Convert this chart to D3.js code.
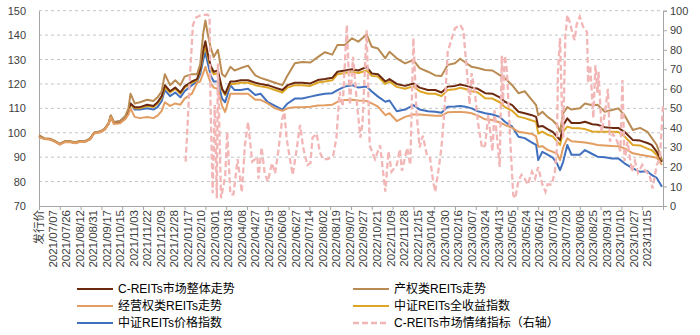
<!DOCTYPE html>
<html><head><meta charset="utf-8">
<script src="https://cdn.jsdelivr.net/npm/d3@7"></script>
<style>
html,body{margin:0;padding:0;background:#fff;}
svg{display:block;font-family:"Liberation Sans",Arial,"Noto Sans CJK SC",sans-serif;}
</style></head><body>
<svg id="c" width="700" height="335"></svg>
<script>
// ---- DATA ----
const tickLabels = ['发行价','2021/07/07','2021/07/26','2021/08/12','2021/08/31','2021/09/17','2021/10/15','2021/11/03','2021/11/22','2021/12/09','2021/12/28','2022/01/17','2022/02/10','2022/03/01','2022/03/18','2022/04/08','2022/04/27','2022/05/19','2022/06/08','2022/06/27','2022/07/14','2022/08/02','2022/08/19','2022/09/07','2022/09/27','2022/10/21','2022/11/09','2022/11/28','2022/12/15','2023/01/04','2023/01/30','2023/02/16','2023/03/07','2023/03/24','2023/04/13','2023/05/05','2023/05/24','2023/06/12','2023/07/03','2023/07/20','2023/08/08','2023/08/25','2023/09/13','2023/10/10','2023/10/27','2023/11/15'];
const leftTicks = [70,80,90,100,110,120,130,140,150];
const rightTicks = [0,10,20,30,40,50,60,70,80,90,100];

// trading-day index of each sampled observation
const days = [0,5,11,15,20,25,30,35,39,44,49,53,59,63,67,69,72,78,83,86,88,92,97,104,110,114,118,121,126,131,136,140,147,152,155,158,160,162,165,168,172,176,179,184,188,194,201,208,213,220,227,234,239,246,253,261,268,275,282,287,294,301,307,315,320,326,333,337,344,352,360,366,374,381,387,393,400,405,410,416,422,429,436,443,448,455,461,467,474,478,480,484,489,494,498,501,504,508,512,520,525,532,537,544,551,557,563,571,578,585,589,594,599];

const chanquan = [99,97.8,97.5,96.8,95.5,96.6,96.5,96.1,96.6,96.6,97.6,100.1,100.6,101.6,104,107.2,104.4,104.8,106.8,110,116,112,112.5,113.5,113,114.5,117,124,119.5,121.5,119.5,123,124,124,128,141,146,141,135,131,134,124,123,127,125.5,126.5,127.5,123.5,122.5,121.5,120.5,119.5,123.5,128.5,129,128.8,131,133,132,136,136,138.7,137.3,140.3,135.2,134.5,130.5,133.2,130.5,128.4,129.8,126.5,125,123.5,123.3,127.8,128.5,130.3,128.8,127,126.5,125.7,125.5,123.6,122.3,119.5,116.2,117,113.4,111.3,107.2,108.6,106.5,105,103.2,100.4,108,110.5,109.5,110,112,111.3,111.5,108.6,109.3,110,107.2,101.1,102,100.4,98,95,88.8];

const zhengti = [98.5,97.6,97.3,96.6,95.3,96.4,96.3,95.9,96.4,96.4,97.4,99.9,100.4,101.4,103.8,106.8,104.1,104.5,106.4,108.8,112,110.5,110.5,111.5,111,112.5,115,119.5,117,118.5,116.5,119,121,122,126,134,137.5,133,127.5,125,125.5,118,116,121,121,121.5,121.5,120.5,120,119.5,118.5,117.5,119.5,120.5,120.5,120.2,121.6,122,122.5,125,125.5,126,125.5,127,124.3,124,121,122,120,119.2,120.2,118.5,117.5,117.5,116.5,118.9,119.2,119.8,119.3,118.5,118,116.2,116,114.5,112.7,111.3,108.6,108,107.2,106.5,102.5,102.8,101.5,100.4,98.4,97,103,105.9,104,104,104.5,103.5,103.3,102.3,102,102,100.4,97,96.8,95.8,95,92.2,88.1];

const quanshouyi = [98.5,97.6,97.3,96.6,95.3,96.4,96.3,95.9,96.4,96.4,97.4,99.9,100.4,101.4,103.8,106.8,104.1,104.5,106.4,108.6,111.5,110,110,111,110.5,112,114.5,118.5,116.5,118,116,118.5,120.5,121.5,125.5,132.5,135.5,131.5,126.5,124,124.5,117.5,115.5,120,120,120.5,120.5,119.5,119,118.5,117.5,116.5,118.5,119.5,119.5,119.2,120.6,121,121.5,124,124.5,125,124.5,125.5,123.3,123,120,121,118.8,118,119,117,116,116,115,117.5,117.8,118.4,117.9,117,116.5,114.1,114,112.5,110.5,109,106.6,106,105,104.5,99.7,100.5,99.2,98.5,96.5,95,100.5,102.5,102,101.8,101.5,100.5,100.4,100.4,100.4,100.3,98.5,95,94.8,93.5,92.9,90.9,88.1];

const jiage = [98.5,97.6,97.3,96.6,95.3,96.4,96.3,95.9,96.4,96.4,97.4,99.9,100.4,101.4,103.8,106.6,104.3,104.7,106.7,109,112,109.5,109.5,110,109.5,110.5,113,117.5,115,116.5,114.5,117,119.5,121,124,130,133,129,123.5,121,121,114,112.5,119.5,117.5,117.5,118,115.5,116,112.5,111,109.5,112,114,114,114.8,115.5,116,116.2,117.5,118.9,119.5,118.5,118.9,116.9,114.8,112.7,113.2,108.8,109.5,111.3,109.5,108.8,108.6,108.2,110.7,110.8,111,110.7,110,108.8,108,107.5,106.5,104.5,102.5,98.4,97.8,96,95,88.8,92.2,91,89.8,87.5,84.7,88.1,95,91,91,92.9,91.3,90.2,90,89.5,89.5,87.5,85.4,84,84.2,82.7,81.5,77.9];

const jingying = [98.2,97.4,97.1,96.4,95.1,96.2,96.1,95.7,96.2,96.2,97.2,99.7,100.2,101.2,103.5,106.3,103.6,103.9,105.6,107.5,110,106.5,106,106.5,106,107,109,112.5,111,112,111.5,114,116,120.5,121,124.5,127,124,120.5,118.5,118,111,108.5,116,116,116,116,113.5,113.5,112,110,109,110,110.5,110.5,110.7,111.2,111.3,111.5,112.7,113.4,113.5,113.2,113,112,110.7,107.2,108,104.8,106.5,107.5,107.5,107.2,107,107,108.4,108.5,108.5,108.4,108,107,105.5,105.2,104.2,103.2,102,100.4,100,99.5,98.5,94.3,94.5,93,92.2,91.5,88.8,94,97.7,96.5,96.2,96,95.5,95,94.8,94.6,94.5,93.6,91.6,91,90.5,90.2,89.8,86.8];

// market sentiment indicator (right axis)
const sentDays = [141,143,145,148,151,155,158,162,164,165,167,169,171,172,175,179,181,184,187,191,195,198,201,205,210,211,214,217,220,224,227,230,234,236,238,241,244,248,251,254,258,261,263,267,270,273,278,283,286,289,292,296,299,302,306,309,311,315,318,323,328,333,336,339,344,347,349,354,357,360,363,366,369,373,376,379,381,384,387,390,393,397,400,405,408,411,414,416,419,422,426,429,432,436,438,443,445,446,448,450,453,456,458,461,464,467,470,474,477,480,484,487,489,493,496,498,499,501,503,504,506,508,511,513,515,517,520,523,527,528,530,533,535,537,538,541,544,547,549,552,556,559,561,563,566,570,573,576,580,583,587,590,594,597,600];
const sentiment = [22.7,43,65,92.7,96.5,97.5,97.8,98,97,50,6.5,51.7,4,73,4,15,38,6,6,24,7,31,43,22.7,25,14,30,17,12.5,22,16.7,27.8,45,48,35,25,16,30,41.5,30,21,22,35,37,27.6,24,24,26,35,58.5,51,92.7,51.7,76.4,51,35,42,90,31,24,31,7.3,28,17.6,21,29,18,29.7,21,86,48,30,36,26,24.6,12.5,7.3,18,30,50,79,86,91,92.7,90,72,52,68,58.6,43,29.7,31,46.6,28,49,20,77,52,77,68.8,35,5.6,4,13,16,14,11,17.6,14,20,11,7.3,11,11,17.6,30,68.8,86,46,35,86,97.8,93,88,85,93,97,92,89,63,72,45,72,58,68.8,38,47,60,33,37,33,28,64.5,23,33,17.6,23,17,21,18,16,9,21,24,51.7];

const seriesNames = ['C-REITs市场整体走势','产权类REITs走势','经营权类REITs走势','中证REITs全收益指数','中证REITs价格指数','C-REITs市场情绪指标（右轴）'];
const seriesColors = ['#6B2A10','#B98B52','#E29D62','#DDA624','#4170BE','#F2B6B6'];

// ---- CHART ----
const svg = d3.select('#c');
const L = 39, R = 663, T = 10.7, B = 206;
const x = d3.scaleLinear().domain([0, 600]).range([L, R]);
const y = d3.scaleLinear().domain([70, 150]).range([B, T]);
const y2 = d3.scaleLinear().domain([0, 100]).range([B, T]);

// gridlines
svg.append('g').selectAll('line').data(leftTicks.filter(v => v > 70)).join('line')
  .attr('x1', L).attr('x2', R).attr('y1', d => y(d)).attr('y2', d => y(d))
  .attr('stroke', '#c4c4c4').attr('stroke-width', 1).attr('stroke-dasharray', '3,3');

// left axis
const gL = svg.append('g').attr('transform', `translate(${L},0)`)
  .call(d3.axisLeft(y).tickValues(leftTicks).tickSize(0).tickPadding(13));
gL.select('.domain').attr('stroke', '#a6a6a6');
gL.selectAll('text').attr('font-size', 11).attr('fill', '#404040');

// right axis
const gR = svg.append('g').attr('transform', `translate(${R},0)`)
  .call(d3.axisRight(y2).tickValues(rightTicks).tickSize(4).tickPadding(3));
gR.select('.domain').attr('stroke', '#a6a6a6');
gR.selectAll('line').attr('stroke', '#a6a6a6');
gR.selectAll('text').attr('font-size', 11).attr('fill', '#404040');

// bottom axis
const gB = svg.append('g').attr('transform', `translate(0,${B})`)
  .call(d3.axisBottom(x).tickValues(d3.range(0, 601, 20)).tickSize(4).tickFormat(''));
gB.select('.domain').attr('stroke', '#a6a6a6');
gB.selectAll('line').attr('stroke', '#a6a6a6');

// x labels
svg.append('g').selectAll('text').data(tickLabels).join('text')
  .attr('transform', (d, i) => `translate(${x(i * 13) + 4},${B + 4}) rotate(-90)`)
  .attr('text-anchor', 'end').attr('font-size', 11.5).attr('fill', '#404040')
  .text(d => d);

const mainSeries = [
  {vals: zhengti, c: seriesColors[0]},
  {vals: chanquan, c: seriesColors[1]},
  {vals: jiage, c: seriesColors[4]},
  {vals: quanshouyi, c: seriesColors[3]},
  {vals: jingying, c: seriesColors[2]}
];
const line = d3.line().x(d => x(d[0])).y(d => y(d[1]));
const drawOrder = [2, 3, 0, 1, 4];
drawOrder.forEach(k => {
  const s = mainSeries[k];
  svg.append('path').datum(days.map((d, i) => [d, s.vals[i]]))
    .attr('d', line).attr('fill', 'none').attr('stroke', s.c)
    .attr('stroke-width', 2).attr('stroke-linejoin', 'round');
});

const line2 = d3.line().x(d => x(d[0])).y(d => y2(d[1]));
svg.append('path').datum(sentDays.map((d, i) => [d, sentiment[i]]))
  .attr('d', line2).attr('fill', 'none').attr('stroke', seriesColors[5])
  .attr('stroke-width', 2.3).attr('stroke-dasharray', '6,3');

// legend
const legend = [
  {n: seriesNames[0], c: seriesColors[0], col: 0, row: 0},
  {n: seriesNames[1], c: seriesColors[1], col: 1, row: 0},
  {n: seriesNames[2], c: seriesColors[2], col: 0, row: 1},
  {n: seriesNames[3], c: seriesColors[3], col: 1, row: 1},
  {n: seriesNames[4], c: seriesColors[4], col: 0, row: 2},
  {n: seriesNames[5], c: seriesColors[5], col: 1, row: 2, dash: true}
];
const lg = svg.append('g').selectAll('g').data(legend).join('g')
  .attr('transform', d => `translate(${d.col ? 353 : 77},${289 + d.row * 17})`);
lg.append('line').attr('x1', 0).attr('x2', 36).attr('y1', 0).attr('y2', 0)
  .attr('stroke', d => d.c).attr('stroke-width', d => d.dash ? 2.3 : 2)
  .attr('stroke-dasharray', d => d.dash ? '6,3' : null);
lg.append('text').attr('x', 41).attr('y', 0).attr('dy', '0.36em')
  .attr('font-size', 12).attr('fill', '#000').text(d => d.n);
</script>
</body></html>
